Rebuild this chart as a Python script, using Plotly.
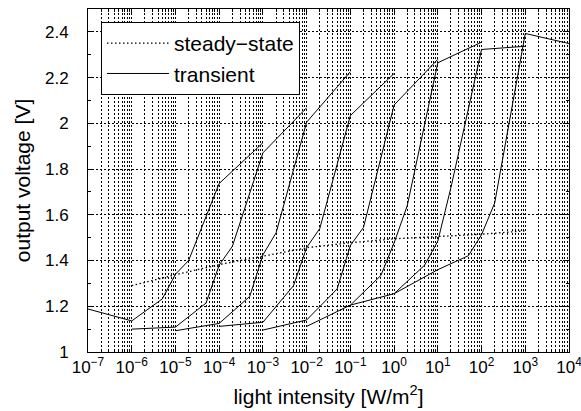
import plotly.graph_objects as go

# Light intensity steps of each transient run, as multiples of its start intensity
step_multipliers = [1, 10, 50, 100, 200, 1000, 10000]
start_intensity = [1e-7, 1e-6, 1e-5, 1e-4, 1e-3, 1e-2, 1e-1, 1e0]

# Output voltage [V] of each transient run at those steps
run_1 = [1.188, 1.136, 1.232, 1.340, 1.400, 1.737, 1.915]
run_2 = [1.100, 1.109, 1.214, 1.380, 1.462, 1.871, 2.068]
run_3 = [1.093, 1.125, 1.243, 1.425, 1.521, 2.005, 2.226]
run_4 = [1.112, 1.130, 1.290, 1.457, 1.540, 2.034, 2.218]
run_5 = [1.096, 1.140, 1.276, 1.466, 1.545, 2.080, 2.280]
run_6 = [1.112, 1.205, 1.335, 1.477, 1.640, 2.265, 2.355]
run_7 = [1.205, 1.255, 1.380, 1.485, 1.720, 2.323, 2.337]
run_8 = [1.255, 1.360, 1.421, 1.513, 1.652, 2.393, 2.349]
transient_runs = [run_1, run_2, run_3, run_4, run_5, run_6, run_7, run_8]

# Steady-state characteristic
steady_intensity = [1e-6, 1e-5, 1e-4, 1e-3, 1e-2, 1e-1, 1e0, 1e1, 1e2, 1e3]
steady_voltage = [1.290, 1.338, 1.382, 1.420, 1.456, 1.478, 1.495, 1.505, 1.515, 1.530]

# Axis ticks
decade_exponents = [-7, -6, -5, -4, -3, -2, -1, 0, 1, 2, 3, 4]
minor_mantissas = [2, 3, 4, 5, 6, 7, 8, 9]

FONT = "Liberation Sans, Arial, Helvetica, sans-serif"
GRID = "black"
GRID_DASH = "2px,2px"

fig = go.Figure()

fig.add_trace(go.Scatter(
    x=steady_intensity, y=steady_voltage, mode="lines",
    name="steady\u2212state",
    line=dict(color="black", width=1.3, dash="1.5px,2.5px"),
))

for i, (i0, volts) in enumerate(zip(start_intensity, transient_runs)):
    fig.add_trace(go.Scatter(
        x=[i0 * m for m in step_multipliers], y=volts, mode="lines",
        name="transient", legendgroup="transient", showlegend=(i == 0),
        line=dict(color="black", width=1),
    ))

major_x = [10.0 ** e for e in decade_exponents]
major_text = ["10<sup>%s</sup>" % str(e).replace("-", "\u2212") for e in decade_exponents]
minor_x = [m * 10.0 ** e for e in decade_exponents[:-1] for m in minor_mantissas]

fig.update_layout(
    width=581, height=411,
    margin=dict(l=88, r=12, t=9, b=59, autoexpand=False),
    paper_bgcolor="white", plot_bgcolor="white",
    font=dict(family=FONT, size=16, color="black"),
    showlegend=True,
    legend=dict(
        x=0.027, y=0.962, xanchor="left", yanchor="top",
        bgcolor="white", bordercolor="black", borderwidth=1,
        font=dict(family=FONT, size=21, color="black"),
        itemwidth=62, tracegroupgap=0,
    ),
    xaxis=dict(
        type="log", range=[-7.000001, 4.000001], automargin=False,
        tickmode="array", tickvals=major_x, ticktext=major_text,
        ticks="inside", ticklen=6, tickcolor="black",
        showline=True, linecolor="black", linewidth=1, mirror="allticks",
        showgrid=True, gridcolor=GRID, gridwidth=1, griddash=GRID_DASH,
        zeroline=False,
        ticklabeloverflow="allow",
        tickfont=dict(family=FONT, size=17),
        minor=dict(tickmode="array", tickvals=minor_x, ticks="inside", ticklen=3,
                   tickcolor="black", showgrid=True, gridcolor=GRID,
                   gridwidth=1, griddash=GRID_DASH),
        title=dict(text="light intensity [W/m<sup>2</sup>]", standoff=12,
                   font=dict(family=FONT, size=21)),
    ),
    yaxis=dict(
        range=[1, 2.5], dtick=0.2, tick0=1, automargin=False,
        ticks="inside", ticklen=6, tickcolor="black",
        showline=True, linecolor="black", linewidth=1, mirror="allticks",
        showgrid=True, gridcolor=GRID, gridwidth=1, griddash=GRID_DASH,
        zeroline=False,
        ticklabelstandoff=15,
        tickfont=dict(family=FONT, size=17),
        minor=dict(dtick=0.1, ticks="inside", ticklen=3, tickcolor="black", showgrid=False),
        title=dict(text="output voltage [V]", standoff=8,
                   font=dict(family=FONT, size=21)),
    ),
)

fig.write_html("out.html")
